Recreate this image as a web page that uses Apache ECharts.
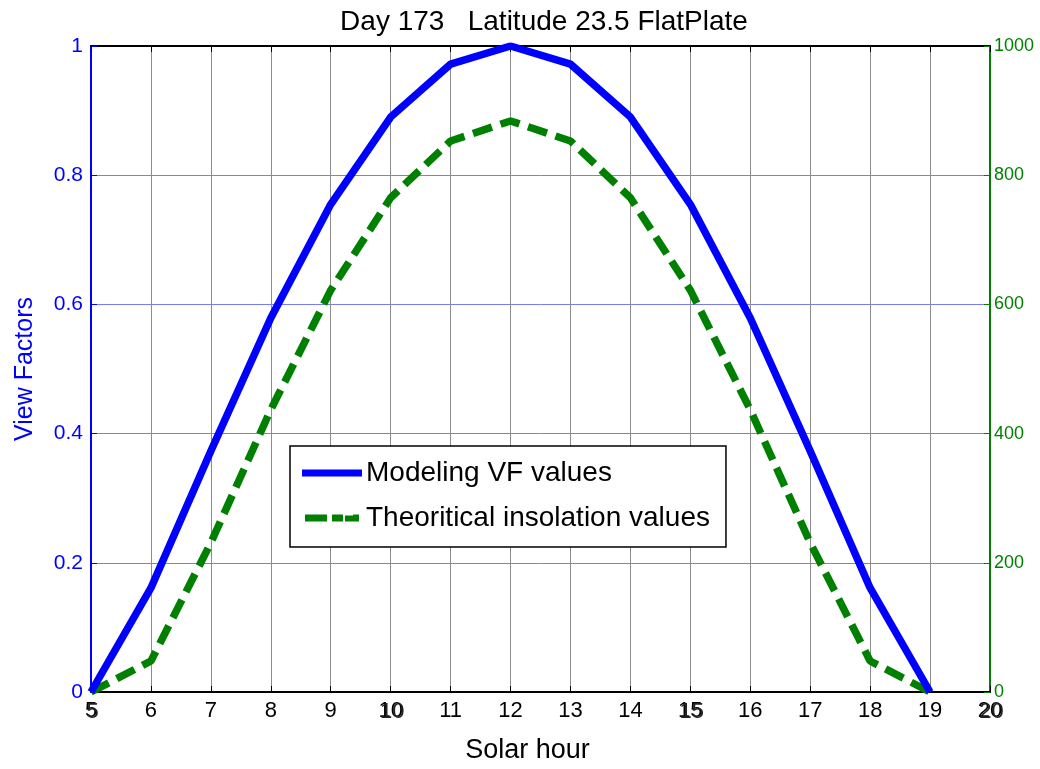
<!DOCTYPE html>
<html><head><meta charset="utf-8">
<script src="https://cdn.jsdelivr.net/npm/echarts@6/dist/echarts.min.js"></script>
<style>html,body{margin:0;padding:0;background:#fff}#c{width:1040px;height:769px}</style>
</head><body><div id="c"></div>
<script>
const hours = [5,6,7,8,9,10,11,12,13,14,15,16,17,18,19];
const viewFactors = [0,0.161,0.373,0.579,0.755,0.89,0.972,1.0,0.972,0.89,0.755,0.579,0.373,0.161,0];
const insolation = [0,48,231,437,622,765,853,884,853,765,622,437,231,48,0];
const leftTicks = [0,0.2,0.4,0.6,0.8,1];
const rightTicks = [0,200,400,600,800,1000];
const xTicks = [5,6,7,8,9,10,11,12,13,14,15,16,17,18,19,20];

const FONT = 'Liberation Sans, Arial, sans-serif';
const chart = echarts.init(document.getElementById('c'), null, {renderer:'canvas'});
const xBase = {type:'value', min:5, max:20, interval:1, gridIndex:0};
chart.setOption({
  animation:false,
  backgroundColor:'#fff',
  title:{text:'Day 173   Latitude 23.5 FlatPlate', left:539, top:3, textAlign:'center',
    textStyle:{fontFamily:FONT, fontSize:28, fontWeight:'normal', color:'#000'}},
  grid:{left:91, right:50, top:46, bottom:77},
  legend:{
    orient:'vertical', left:290, top:446,
    backgroundColor:'#fff', borderColor:'#000', borderWidth:1.5,
    padding:[13,16,15,12], itemGap:17, itemWidth:60, itemHeight:7,
    textStyle:{fontFamily:FONT, fontSize:28, color:'#000', padding:[0,0,0,-1]},
    data:[
      {name:'Modeling VF values', icon:'path://M0,0H60V7H0Z', itemStyle:{color:'#0000ff'}},
      {name:'Theoritical insolation values', icon:'path://M0,0H22V7H0Z M27,0H38V7H27Z M40,1H48V7H40Z M48,0H54V7H48Z', itemStyle:{color:'#008000'}}
    ]
  },
  xAxis:[
    Object.assign({}, xBase, {
      position:'bottom', name:'Solar hour', nameLocation:'middle', nameGap:45,
      nameTextStyle:{fontFamily:FONT, fontSize:27, color:'#000', padding:[0,26,0,0]},
      axisLine:{onZero:false, lineStyle:{color:'#000', width:2}},
      axisTick:{inside:true, length:6, lineStyle:{color:'#000'}},
      axisLabel:{fontFamily:FONT, fontSize:22, color:'#000', margin:8,
        formatter:v=>xTicks.includes(v)?String(v):''},
      splitLine:{show:true, lineStyle:{color:'#8c8c8c', width:1}}
    }),
    Object.assign({}, xBase, {
      position:'top',
      axisLine:{onZero:false, lineStyle:{color:'#000', width:2}},
      axisTick:{inside:true, length:6, lineStyle:{color:'#000'}},
      axisLabel:{show:false}, splitLine:{show:false}
    }),
    Object.assign({}, xBase, {
      position:'bottom', interval:5,
      axisLine:{show:false}, axisTick:{show:false}, splitLine:{show:false},
      axisLabel:{fontFamily:FONT, fontSize:22, color:'#222', margin:9, padding:[0,0,0,3]}
    })
  ],
  yAxis:[
    {type:'value', min:0, max:1, interval:0.2, position:'left',
      name:'View Factors', nameLocation:'middle', nameGap:53,
      nameTextStyle:{fontFamily:FONT, fontSize:25, color:'#0000ff'},
      axisLine:{show:true, onZero:false, lineStyle:{color:'#0000ff', width:2}},
      axisTick:{show:true, inside:true, length:6, lineStyle:{color:'#0000ff'}},
      axisLabel:{fontFamily:FONT, fontSize:21, color:'#0000ff', margin:8,
        formatter:v=>leftTicks.some(t=>Math.abs(t-v)<1e-9)?String(+v.toFixed(1)):''},
      splitLine:{show:true, lineStyle:{color:'#7a7aff', width:1}}
    },
    {type:'value', min:0, max:1000, interval:200, position:'right',
      axisLine:{show:true, onZero:false, lineStyle:{color:'#008000', width:2}},
      axisTick:{show:true, inside:true, length:6, lineStyle:{color:'#008000'}},
      axisLabel:{fontFamily:FONT, fontSize:18, color:'#008000', margin:4,
        formatter:v=>rightTicks.includes(v)?String(v):''},
      splitLine:{show:false}
    }
  ],
  series:[
    {name:'Modeling VF values', type:'line', xAxisIndex:0, yAxisIndex:0,
      data:hours.map((h,i)=>[h,viewFactors[i]]), symbol:'none',
      lineStyle:{color:'#0000ff', width:7.5}, itemStyle:{color:'#0000ff'}, z:3},
    {name:'Theoritical insolation values', type:'line', xAxisIndex:0, yAxisIndex:1,
      data:hours.map((h,i)=>[h,insolation[i]]), symbol:'none',
      lineStyle:{color:'#008000', width:7.5, type:[20,9]}, itemStyle:{color:'#008000'}, z:2}
  ]
});
</script></body></html>
